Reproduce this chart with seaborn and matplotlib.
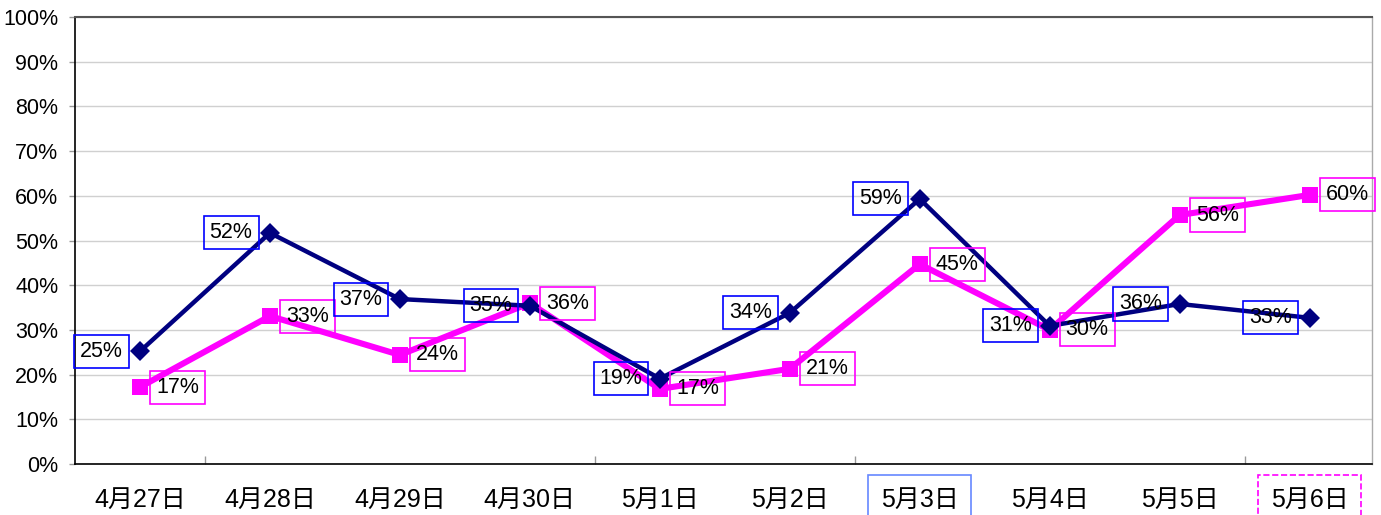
import seaborn as sns
import matplotlib.pyplot as plt
from matplotlib.ticker import FixedLocator, PercentFormatter
import pandas as pd

# データ
days = ["4月27日", "4月28日", "4月29日", "4月30日", "5月1日",
        "5月2日", "5月3日", "5月4日", "5月5日", "5月6日"]
navy_vals = [25.2, 51.7, 36.9, 35.4, 19.1, 33.8, 59.3, 30.9, 35.8, 32.7]
pink_vals = [17.2, 33.1, 24.4, 36.0, 16.8, 21.3, 44.7, 30.0, 55.7, 60.2]

NAVY = "#000080"
PINK = "#FF00FF"

sns.set_theme(style="white")
plt.rcParams['font.family'] = ['Liberation Sans', 'Noto Sans CJK JP', 'DejaVu Sans']
plt.rcParams['text.color'] = 'black'
plt.rcParams['xtick.labelcolor'] = 'black'
plt.rcParams['ytick.labelcolor'] = 'black'

df = pd.DataFrame({"x": range(len(days)), "navy": navy_vals, "pink": pink_vals})

fig = plt.figure(figsize=(13.81, 5.15), dpi=100)
ax = fig.add_axes([0.0543, 0.099, 0.9392, 0.868])

sns.lineplot(data=df, x="x", y="navy", ax=ax, color=NAVY, lw=3.2,
             marker="D", markersize=10, markeredgewidth=0, zorder=4)
sns.lineplot(data=df, x="x", y="pink", ax=ax, color=PINK, lw=4.4,
             marker="s", markersize=11.5, markeredgewidth=0, zorder=3)

# データラベル (navyは左、pinkは右)
for i, (a, b) in enumerate(zip(navy_vals, pink_vals)):
    ax.annotate(f"{round(a)}%", (i, a), xytext=(-28, 0), textcoords="offset points",
                ha="center", va="center", fontsize=15.5, zorder=5,
                bbox=dict(boxstyle="square,pad=0.28", fc="none", ec="#0000FF", lw=1.2))
    ax.annotate(f"{round(b)}%", (i, b), xytext=(27, 0), textcoords="offset points",
                ha="center", va="center", fontsize=15.5, zorder=5,
                bbox=dict(boxstyle="square,pad=0.28", fc="none", ec=PINK, lw=1.2))

# 軸の設定
ax.set_xlim(-0.5, 9.48)
ax.set_ylim(0, 100)
ax.set_yticks(range(0, 101, 10))
ax.yaxis.set_major_formatter(PercentFormatter(decimals=0))
ax.set_xticks(range(len(days)))
ax.set_xticklabels(days)
ax.xaxis.set_minor_locator(FixedLocator([0.5, 3.5, 5.5, 8.5]))
ax.tick_params(axis="x", which="major", length=0, pad=17, labelsize=18)
ax.tick_params(axis="x", which="minor", direction="in", length=6, width=1, color="#999999", bottom=True)
ax.tick_params(axis="y", which="major", direction="out", length=4, width=1, color="#999999",
               left=True, pad=8, labelsize=15.5)
ax.set_xlabel("")
ax.set_ylabel("")
ax.grid(axis="y", color="#D0D0D0", lw=1)
ax.set_axisbelow(True)

for s in ["left", "bottom"]:
    ax.spines[s].set_color("black")
    ax.spines[s].set_linewidth(1.2)
ax.spines["top"].set_color("#555555")
ax.spines["top"].set_linewidth(1.5)
ax.spines["right"].set_color("#AAAAAA")
ax.spines["right"].set_linewidth(1)

# 目立たせるラベル枠
lbls = ax.get_xticklabels()
lbls[6].set_bbox(dict(boxstyle="square,pad=0.5", fc="none", ec="#6688FF", lw=1.2))
lbls[9].set_bbox(dict(boxstyle="square,pad=0.5", fc="none", ec=PINK, lw=1.2, ls="--"))

fig.savefig("out.png", dpi=100)
